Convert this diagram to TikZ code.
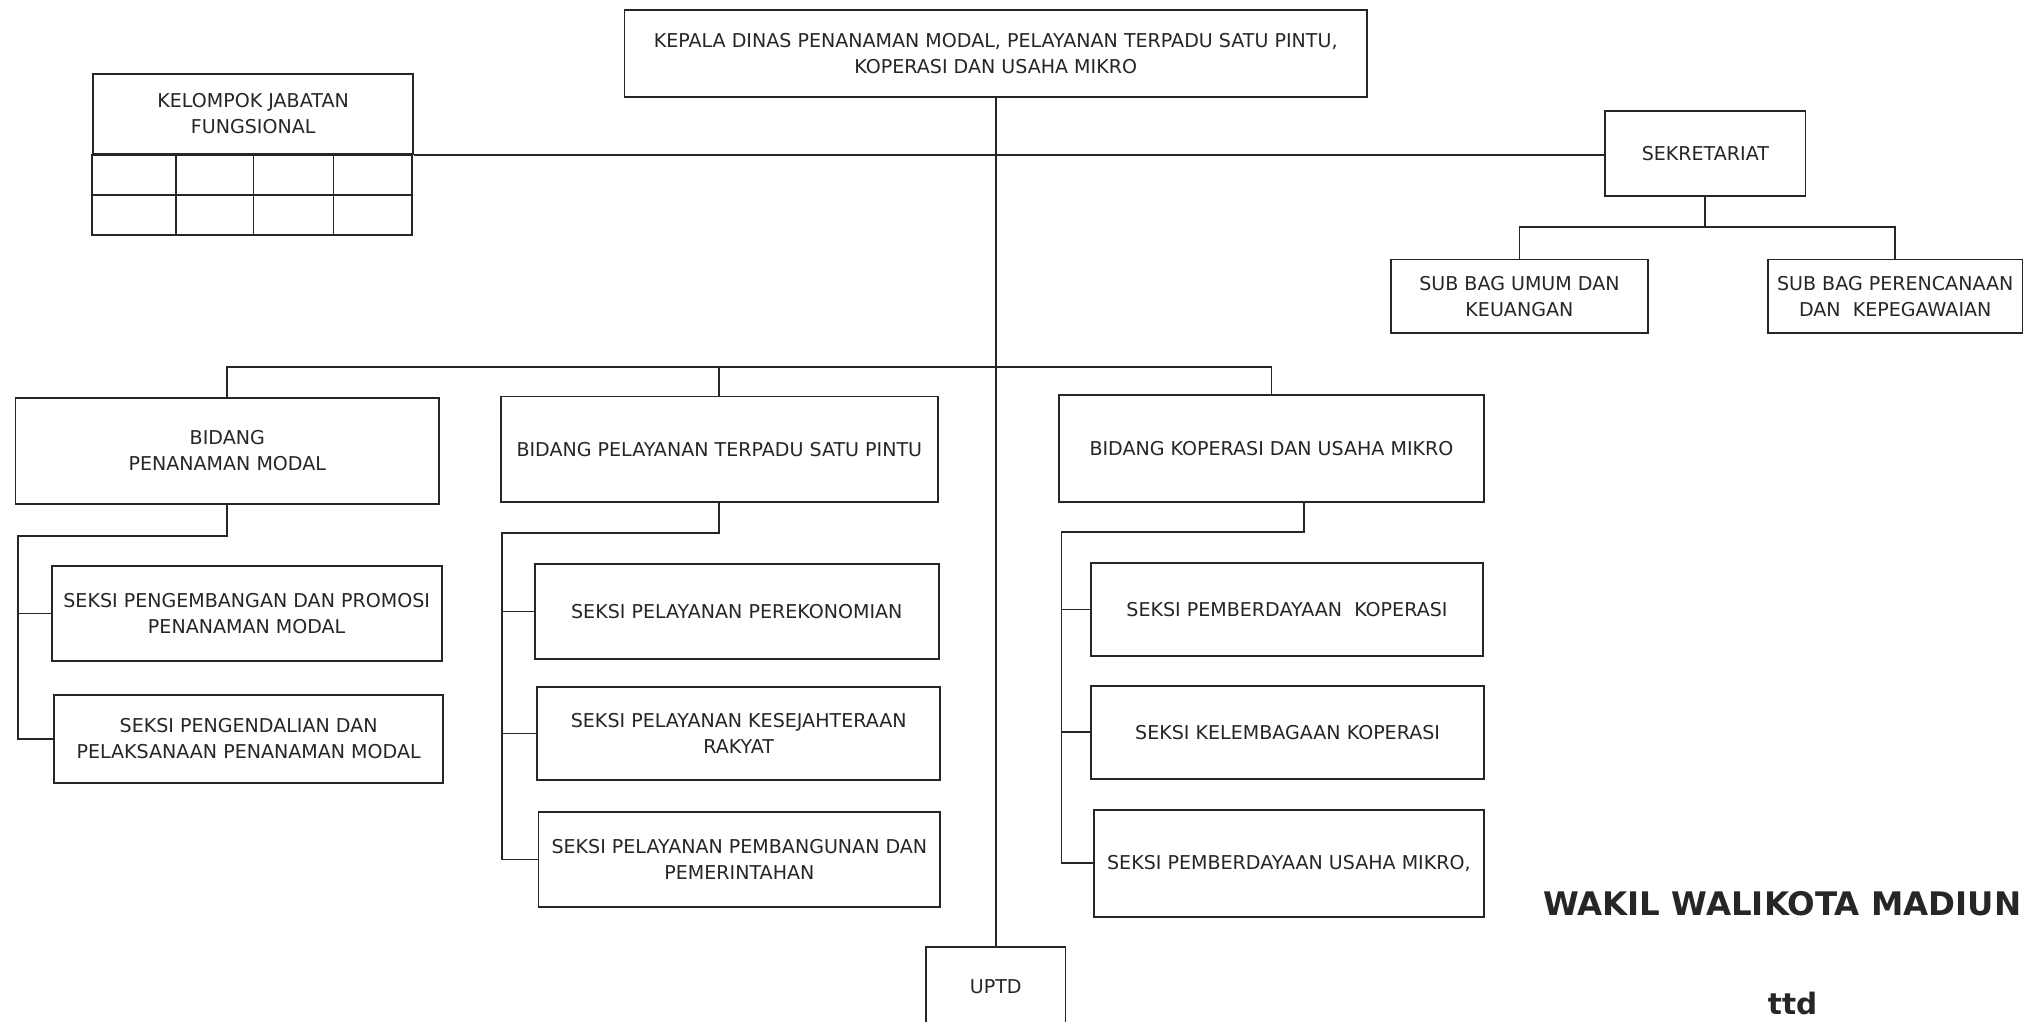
\documentclass[tikz,border=0pt]{standalone}
\usepackage{fontspec}
\setmainfont{DejaVu Sans}
\newcommand\pxu{0.02cm}
\tikzset{
  unit/.style={draw,fill=white,align=center,inner sep=1pt,font=\fontsize{8.4}{11.4}\selectfont},
  wh/.style 2 args={minimum width=#1*\pxu,minimum height=#2*\pxu},
  sign/.style={font=\bfseries\fontsize{#1}{16}\selectfont},
}
\begin{document}
\begin{tikzpicture}[x=\pxu,y=-\pxu,line width=.8pt,black!85]
        \clip (0,0) rectangle (1568,791);
        \fill[white] (0,0) rectangle (1568,791);
        \node[unit,wh={575}{67}] (kepala) at (771,41.5) {KEPALA DINAS PENANAMAN MODAL, PELAYANAN TERPADU SATU PINTU,\\KOPERASI DAN USAHA MIKRO};
        \node[unit,wh={248}{62}] (kjf) at (196,88) {KELOMPOK JABATAN\\FUNGSIONAL};
        \draw (kjf.south west) rectangle ++(248,62);
        \draw ([yshift=-31*\pxu]kjf.south west) -- ++(248,0);
        \foreach \x in {65,125,187} \draw ([xshift=\x*\pxu]kjf.south west) -- ++(0,62);
        \node[unit,wh={155}{66}] (sekr) at (1320.5,119) {SEKRETARIAT};
        \node[unit,wh={199}{57}] (sbumum) at (1176.5,229.5) {SUB BAG UMUM DAN\\KEUANGAN};
        \node[unit,wh={197}{57}] (sbren) at (1467.5,229.5) {SUB BAG PERENCANAAN\\DAN~~KEPEGAWAIAN};
        \node[unit,wh={328}{82}] (bpm) at (176,349) {BIDANG\\PENANAMAN MODAL};
        \node[unit,wh={338}{82}] (bptsp) at (557,348) {BIDANG PELAYANAN TERPADU SATU PINTU};
        \node[unit,wh={329}{83}] (bkum) at (984.5,347.5) {BIDANG KOPERASI DAN USAHA MIKRO};
        \node[unit,wh={302}{74}] (spromosi) at (191,475) {SEKSI PENGEMBANGAN DAN PROMOSI\\PENANAMAN MODAL};
        \node[unit,wh={301}{68}] (spengendalian) at (192.5,572) {SEKSI PENGENDALIAN DAN\\PELAKSANAAN PENANAMAN MODAL};
        \node[unit,wh={313}{73}] (sekonomi) at (570.5,473.5) {SEKSI PELAYANAN PEREKONOMIAN};
        \node[unit,wh={312}{72}] (skesra) at (572,568) {SEKSI PELAYANAN KESEJAHTERAAN\\RAKYAT};
        \node[unit,wh={311}{73}] (spembangunan) at (572.5,665.5) {SEKSI PELAYANAN PEMBANGUNAN DAN\\PEMERINTAHAN};
        \node[unit,wh={303}{72}] (skop) at (996.5,472) {SEKSI PEMBERDAYAAN~~KOPERASI};
        \node[unit,wh={304}{72}] (slembaga) at (997,567) {SEKSI KELEMBAGAAN KOPERASI};
        \node[unit,wh={302}{83}] (sumkm) at (998,668.5) {SEKSI PEMBERDAYAAN USAHA MIKRO,};
        \node[unit,wh={108}{62}] (uptd) at (771,764) {UPTD};
        \node[sign=14.3] (wakil) at (1380,700) {WAKIL WALIKOTA MADIUN};
        \node[sign=13] (ttd) at (1388,777) {ttd};
        \draw (kepala) -- (uptd);
        \draw (kjf.south east) -- (kjf.south east -| sekr.west);
        \coordinate (sj) at (1320.5,176);
        \draw (sekr) -- (sj);
        \draw (sbumum.north) |- (sj) -| (sbren.north);
        \coordinate (bj) at (771,284);
        \draw (bpm.north) |- (bj) -| (bkum.north);
        \draw (bptsp.north) -- (bptsp.north |- bj);
        \coordinate (r1) at (14,415);
        \coordinate (r2) at (389,413);
        \coordinate (r3) at (822,412);
        \draw (bpm.south) |- (r1) |- (spengendalian.west);
        \draw (spromosi.west) -- (spromosi.west -| r1);
        \draw (bptsp.south) |- (r2) |- (spembangunan.west);
        \foreach \s in {sekonomi,skesra} \draw (\s.west) -- (\s.west -| r2);
        \draw ([xshift=25.5*\pxu]bkum.south) |- (r3) |- (sumkm.west);
        \foreach \s in {skop,slembaga} \draw (\s.west) -- (\s.west -| r3);
        \end{tikzpicture}
\end{document}
